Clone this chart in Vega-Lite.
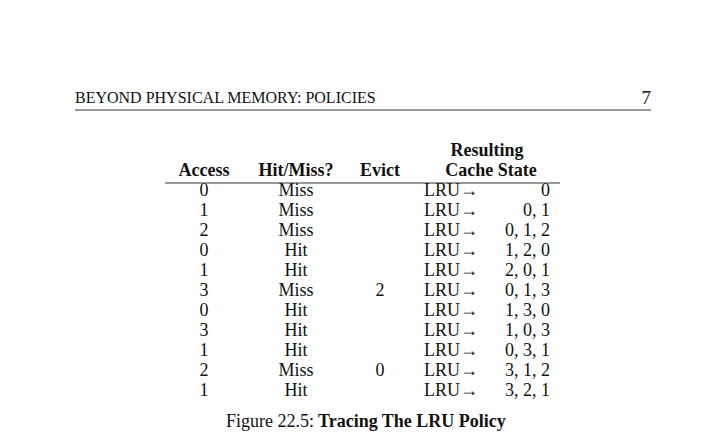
{
"$schema":"https://vega.github.io/schema/vega-lite/v6.json",
"width":726,"height":444,"padding":0,
"autosize":{"type":"fit","contains":"padding"},
"config":{"view":{"stroke":null},"text":{"font":"Liberation Serif","fontSize":18,"baseline":"middle","color":"#111"}},
"data":{"values":[
{"row":1,"access":"0","hm":"Miss","evict":"","state":"0"},
{"row":2,"access":"1","hm":"Miss","evict":"","state":"0, 1"},
{"row":3,"access":"2","hm":"Miss","evict":"","state":"0, 1, 2"},
{"row":4,"access":"0","hm":"Hit","evict":"","state":"1, 2, 0"},
{"row":5,"access":"1","hm":"Hit","evict":"","state":"2, 0, 1"},
{"row":6,"access":"3","hm":"Miss","evict":"2","state":"0, 1, 3"},
{"row":7,"access":"0","hm":"Hit","evict":"","state":"1, 3, 0"},
{"row":8,"access":"3","hm":"Hit","evict":"","state":"1, 0, 3"},
{"row":9,"access":"1","hm":"Hit","evict":"","state":"0, 3, 1"},
{"row":10,"access":"2","hm":"Miss","evict":"0","state":"3, 1, 2"},
{"row":11,"access":"1","hm":"Hit","evict":"","state":"3, 2, 1"}
]},
"encoding":{
"y":{"field":"row","type":"quantitative","scale":{"domain":[-8.55,13.65],"reverse":true,"nice":false,"zero":false},"axis":null}
},
"layer":[
{"mark":{"type":"text","align":"center"},"encoding":{"x":{"datum":204,"type":"quantitative","scale":{"domain":[0,726],"nice":false,"zero":false},"axis":null},"text":{"field":"access"}}},
{"mark":{"type":"text","align":"center"},"encoding":{"x":{"datum":296,"type":"quantitative"},"text":{"field":"hm"}}},
{"mark":{"type":"text","align":"center"},"encoding":{"x":{"datum":380,"type":"quantitative"},"text":{"field":"evict"}}},
{"mark":{"type":"text","align":"left"},"encoding":{"x":{"datum":424,"type":"quantitative"},"text":{"value":"LRU→"}}},
{"mark":{"type":"text","align":"right"},"encoding":{"x":{"datum":550,"type":"quantitative"},"text":{"field":"state"}}},
{"data":{"values":[
{"row":0,"x":204,"t":"Access"},{"row":0,"x":296,"t":"Hit/Miss?"},{"row":0,"x":380,"t":"Evict"},{"row":0,"x":491,"t":"Cache State"},{"row":-1,"x":487,"t":"Resulting"}]},
"mark":{"type":"text","align":"center","fontWeight":"bold"},
"encoding":{"x":{"field":"x","type":"quantitative"},"text":{"field":"t"}}},
{"data":{"values":[{"row":-3.65,"x":75,"t":"BEYOND PHYSICAL MEMORY: POLICIES"}]},
"mark":{"type":"text","align":"left","fontSize":16},
"encoding":{"x":{"field":"x","type":"quantitative"},"text":{"field":"t"}}},
{"data":{"values":[{"row":-3.65,"x":651,"t":"7"}]},
"mark":{"type":"text","align":"right","fontSize":19},
"encoding":{"x":{"field":"x","type":"quantitative"},"text":{"field":"t"}}},
{"data":{"values":[{"row":12.55,"x":314,"t":"Figure 22.5:"}]},
"mark":{"type":"text","align":"right"},
"encoding":{"x":{"field":"x","type":"quantitative"},"text":{"field":"t"}}},
{"data":{"values":[{"row":12.55,"x":318,"t":"Tracing The LRU Policy"}]},
"mark":{"type":"text","align":"left","fontWeight":"bold"},
"encoding":{"x":{"field":"x","type":"quantitative"},"text":{"field":"t"}}},
{"data":{"values":[{"row":-3.05,"x":75,"x2":651},{"row":0.6,"x":165,"x2":560}]},
"mark":{"type":"rule","color":"#333","strokeWidth":1},
"encoding":{"x":{"field":"x","type":"quantitative"},"x2":{"field":"x2"}}}
]
}
